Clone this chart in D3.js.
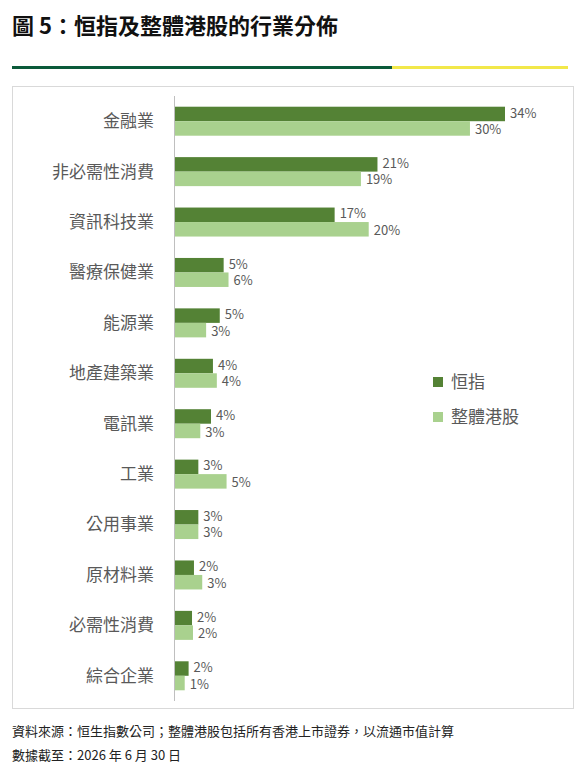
<!DOCTYPE html>
<html><head><meta charset="utf-8">
<script src="https://cdn.jsdelivr.net/npm/d3@7"></script>
<style>body{margin:0;background:#fff;font-family:"Noto Sans CJK TC","Noto Sans",sans-serif;}</style>
</head><body><svg id="c" width="586" height="771"></svg>
<script>
const categories=["金融業","非必需性消費","資訊科技業","醫療保健業","能源業","地產建築業","電訊業","工業","公用事業","原材料業","必需性消費","綜合企業"];
const hsiValues=[34,20.9,16.5,5.1,4.7,4.0,3.8,2.5,2.5,2.05,1.85,1.5];
const hsiLabels=["34%","21%","17%","5%","5%","4%","4%","3%","3%","2%","2%","2%"];
const mktValues=[30.4,19.2,20.0,5.6,3.3,4.4,2.7,5.4,2.5,2.9,1.95,1.1];
const mktLabels=["30%","19%","20%","6%","3%","4%","3%","5%","3%","3%","2%","1%"];
const seriesNames=["恒指","整體港股"];
const colors=["#548235","#a9d18e"];
const svg=d3.select("#c");
svg.append("text").attr("x",12).attr("y",34).attr("font-size",22).attr("font-weight","bold").attr("fill","#111").text("圖 5：恒指及整體港股的行業分佈");
svg.append("rect").attr("x",12).attr("y",66).attr("width",380).attr("height",3).attr("fill","#0b5a3a");
svg.append("rect").attr("x",392).attr("y",66).attr("width",176).attr("height",3).attr("fill","#f2e84a");
svg.append("rect").attr("x",12.5).attr("y",86.5).attr("width",561).attr("height",622).attr("fill","none").attr("stroke","#d9d9d9");
const x=d3.scaleLinear().domain([0,34]).range([174,505]);
const y=d3.scaleBand().domain(categories).range([96,701]);
const bh=14.5;
categories.forEach((c,i)=>{
  const cy=y(c)+y.bandwidth()/2;
  [[hsiValues,hsiLabels,0],[mktValues,mktLabels,1]].forEach(([v,l,k])=>{
    const top=cy-bh+k*bh;
    svg.append("rect").attr("x",x(0)).attr("y",top).attr("width",x(v[i])-x(0)).attr("height",bh).attr("fill",colors[k]);
    svg.append("text").attr("x",x(v[i])+5).attr("y",top+bh/2+(k?1:-1)).attr("dy","0.35em").attr("font-size",13).attr("fill","#595959").text(l[i]);
  });
  svg.append("text").attr("x",154).attr("y",cy).attr("dy","0.35em").attr("text-anchor","end").attr("font-size",17).attr("fill","#595959").text(c);
});
svg.append("line").attr("x1",174.5).attr("x2",174.5).attr("y1",96).attr("y2",701).attr("stroke","#bfbfbf");
seriesNames.forEach((s,k)=>{
  const ly=382+k*35;
  svg.append("rect").attr("x",433).attr("y",ly-5).attr("width",10).attr("height",10).attr("fill",colors[k]);
  svg.append("text").attr("x",451).attr("y",ly).attr("dy","0.35em").attr("font-size",17).attr("fill","#595959").text(s);
});
svg.append("text").attr("x",12).attr("y",736).attr("font-size",13).attr("fill","#222").text("資料來源：恒生指數公司；整體港股包括所有香港上市證券，以流通市值計算");
svg.append("text").attr("x",12).attr("y",760).attr("font-size",13).attr("fill","#222").text("數據截至：2026 年 6 月 30 日");
</script></body></html>
